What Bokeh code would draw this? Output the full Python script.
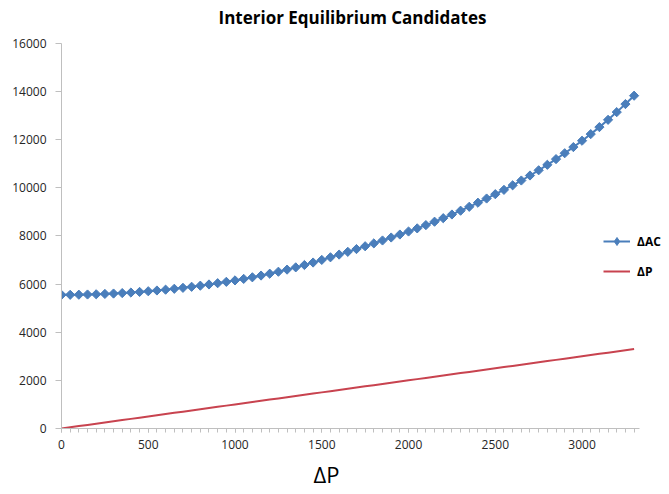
import numpy as np
from bokeh.plotting import figure
from bokeh.models import Range1d, FixedTicker, Legend, LegendItem, Title, Label
from bokeh.embed import file_html
from bokeh.resources import INLINE

title_text = "Interior Equilibrium Candidates"
x_title = "ΔP"
series_names = ["ΔAC", "ΔP"]

x_values = [0, 50, 100, 150, 200, 250, 300, 350, 400, 450,
            500, 550, 600, 650, 700, 750, 800, 850, 900, 950,
            1000, 1050, 1100, 1150, 1200, 1250, 1300, 1350, 1400, 1450,
            1500, 1550, 1600, 1650, 1700, 1750, 1800, 1850, 1900, 1950,
            2000, 2050, 2100, 2150, 2200, 2250, 2300, 2350, 2400, 2450,
            2500, 2550, 2600, 2650, 2700, 2750, 2800, 2850, 2900, 2950,
            3000, 3050, 3100, 3150, 3200, 3250, 3300]

delta_ac = [5550, 5552, 5556, 5564, 5574, 5588, 5604, 5624, 5646, 5672,
            5700, 5731, 5765, 5802, 5842, 5885, 5931, 5981, 6034, 6090,
            6150, 6212, 6279, 6351, 6428, 6510, 6598, 6691, 6789, 6892,
            7000, 7110, 7222, 7336, 7451, 7568, 7687, 7808, 7931, 8055,
            8180, 8310, 8446, 8587, 8734, 8886, 9044, 9207, 9376, 9550,
            9730, 9910, 10099, 10298, 10506, 10723, 10950, 11186, 11431, 11686,
            11950, 12225, 12515, 12819, 13138, 13472, 13820]

delta_p = [0, 50, 100, 150, 200, 250, 300, 350, 400, 450,
           500, 550, 600, 650, 700, 750, 800, 850, 900, 950,
           1000, 1050, 1100, 1150, 1200, 1250, 1300, 1350, 1400, 1450,
           1500, 1550, 1600, 1650, 1700, 1750, 1800, 1850, 1900, 1950,
           2000, 2050, 2100, 2150, 2200, 2250, 2300, 2350, 2400, 2450,
           2500, 2550, 2600, 2650, 2700, 2750, 2800, 2850, 2900, 2950,
           3000, 3050, 3100, 3150, 3200, 3250, 3300]

x_tick_labels = [0, 500, 1000, 1500, 2000, 2500, 3000]
y_tick_labels = [0, 2000, 4000, 6000, 8000, 10000, 12000, 14000, 16000]

FONT = "Open Sans"
BLUE = "#4A7EBB"
RED = "#C8434F"
AXIS_COL = "#BFBFBF"
TXT = "#262626"

p = figure(width=669, height=494, output_backend="svg", toolbar_location=None,
           x_range=Range1d(0, 3504), y_range=Range1d(0, 17773),
           min_border_left=61, min_border_right=0, min_border_top=0,
           min_border_bottom=66)
p.outline_line_color = None
p.xgrid.grid_line_color = None
p.ygrid.grid_line_color = None
p.background_fill_color = "white"
p.border_fill_color = "white"

# axes
p.xaxis.ticker = FixedTicker(ticks=x_tick_labels, minor_ticks=x_values)
p.xaxis.bounds = (0, 3330)
p.xaxis.axis_line_color = AXIS_COL
p.xaxis.major_tick_line_color = AXIS_COL
p.xaxis.minor_tick_line_color = AXIS_COL
p.xaxis.major_tick_out = 4
p.xaxis.major_tick_in = 0
p.xaxis.minor_tick_out = 4
p.xaxis.minor_tick_in = 0
p.xaxis.major_label_standoff = 7
p.xaxis.major_label_text_font = FONT
p.xaxis.major_label_text_font_size = "12px"
p.xaxis.major_label_text_color = TXT

p.yaxis.ticker = FixedTicker(ticks=y_tick_labels, minor_ticks=[])
p.yaxis.bounds = (0, 16000)
p.yaxis.axis_line_color = AXIS_COL
p.yaxis.major_tick_line_color = AXIS_COL
p.yaxis.major_tick_out = 6
p.yaxis.major_tick_in = 0
p.yaxis.major_label_standoff = 9
p.yaxis.major_label_text_font = FONT
p.yaxis.major_label_text_font_size = "12px"
p.yaxis.major_label_text_color = TXT

# series
r_p = p.line(x_values, delta_p, line_color=RED, line_width=2)
r_ac_line = p.line(x_values, delta_ac, line_color=BLUE, line_width=2)
p.scatter(x_values, delta_ac, marker="square", angle=np.pi / 4,
          size=6.5, fill_color=BLUE, line_color=BLUE)
# legend key marker (not visible in the plot: its value is NaN)
r_ac_key = p.scatter(x=x_values[:1], y=[np.nan], marker="diamond", size=10,
                     fill_color=BLUE, line_color=BLUE)

legend = Legend(items=[LegendItem(label=series_names[0], renderers=[r_ac_line, r_ac_key]),
                       LegendItem(label=series_names[1], renderers=[r_p])],
                location=(542, 147), padding=0, margin=0, spacing=10,
                glyph_width=27, glyph_height=20, label_height=20,
                label_standoff=7, border_line_color=None,
                background_fill_alpha=0,
                label_text_font=FONT, label_text_font_size="12px",
                label_text_font_style="bold", label_text_color="black")
p.add_layout(legend, "center")

p.add_layout(Label(x=157, y=411, x_units="screen", y_units="screen",
                   text=title_text, text_align="left", text_baseline="alphabetic",
                   text_font=FONT, text_font_size="17px", text_font_style="bold",
                   text_color="black"))

p.add_layout(Title(text=x_title, align="left", offset=252, text_line_height=0.75,
                   text_font=FONT, text_font_size="22px", text_font_style="normal",
                   text_color="black"), "below")

open("out.html", "w").write(file_html(p, INLINE))
